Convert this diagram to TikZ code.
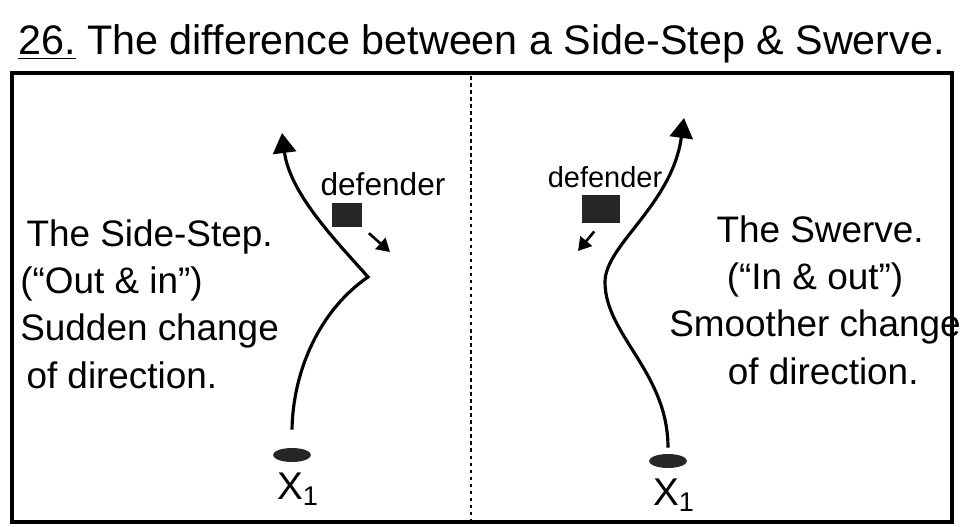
\documentclass[tikz,border=0pt]{standalone}
\usepackage{fontspec}
\setmainfont{Liberation Sans}
\usetikzlibrary{arrows.meta, shapes.geometric, positioning}

\begin{document}
\begin{tikzpicture}[x=0.02cm, y=-0.02cm,
	runline/.style={line width=1.8pt, -{Triangle[width=0.46cm, length=0.4cm]}},
	player/.style={ellipse, fill=black!85, minimum width=0.76cm, minimum height=0.28cm, inner sep=0pt},
	defbox/.style={rectangle, fill=black!85, inner sep=0pt},
	move/.style={line width=1.5pt, -{Triangle[width=0.3cm, length=0.26cm]}},
	note/.style={font=\fontsize{21}{27}\selectfont, inner sep=0pt}]
	\useasboundingbox (0,0) rectangle (974,527);
	% title and frame
	\node[anchor=base west, inner sep=0pt, font=\fontsize{23.5}{28}\selectfont] (title) at (18,55)
		{\underline{26.}\ The difference between a Side-Step \& Swerve.};
	\draw[line width=2.2pt] (12,73) rectangle (952,522);
	\draw[line width=0.9pt, dash pattern=on 2pt off 2pt] (471,76) -- (471,520);
	% attackers
	\foreach \n/\x/\y in {ss/292/455, sw/668/461}{
		\node[player] (p\n) at (\x,\y) {};
		\node[below=2mm of p\n, xshift=1.2mm, inner sep=0pt, font=\fontsize{22}{22}\selectfont] (x\n) {X\textsubscript{1}};
	}
	% defenders
	\node[defbox, minimum width=0.6cm, minimum height=0.48cm] (dss) at (347,215) {};
	\node[defbox, minimum width=0.76cm, minimum height=0.56cm] (dsw) at (601,209) {};
	\node[font=\fontsize{18}{18}\selectfont] (dssLabel) at (383,184) {defender};
	\node[font=\fontsize{16.5}{18}\selectfont] (dswLabel) at (605,177) {defender};
	\coordinate (dssTo) at (390,252);
	\coordinate (dswTo) at (578,251);
	\draw[move, shorten <=5pt] (dss.south east) -- (dssTo);
	\draw[move, shorten <=6pt] (dsw.south) -- (dswTo);
	% side-step run
	\coordinate (ssCut) at (368,277);
	\coordinate (ssEnd) at (282,133);
	\draw[runline] (pss.north) ++(0,-18) .. controls (293,370) and (320,310) .. (ssCut)
		.. controls (340,245) and (290,195) .. (ssEnd);
	% swerve run
	\coordinate (swEnd) at (684,118);
	\draw[runline] (psw.north) ++(0,-6) .. controls (668,372) and (605,335) .. (605,282)
		.. controls (605,245) and (672,205) .. (swEnd);
	% notes
	\node[note, anchor=west, align=left] (ssNote) at (20,304)
		{\,The Side-Step.\\(``Out \& in'')\\Sudden change\\\,of direction.};
	\node[note, anchor=center, align=center] (swNote) at (815,300)
		{\ The Swerve.\\(``In \& out'')\\Smoother change\\\ \,of direction.};
\end{tikzpicture}
\end{document}
